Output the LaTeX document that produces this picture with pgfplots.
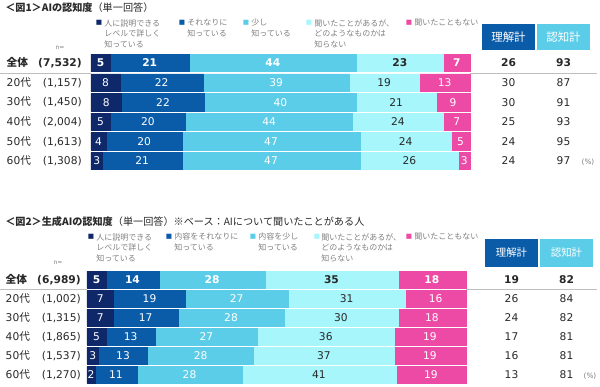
\documentclass[border=0pt]{standalone}
\usepackage{pgfplots}
\pgfplotsset{compat=1.18}
\usepackage{fontspec}
\setmainfont{DejaVu Sans}
\newfontfamily\jp{Noto Sans CJK JP}
\definecolor{c1}{RGB}{14,40,106}
\definecolor{c2}{RGB}{10,92,168}
\definecolor{c3}{RGB}{92,205,232}
\definecolor{c4}{RGB}{167,246,252}
\definecolor{c5}{RGB}{236,74,164}
\definecolor{lg}{RGB}{128,128,128}
\definecolor{tx}{RGB}{40,40,40}
\protected\def\B#1{{\bfseries #1}}
\protected\def\rl#1#2{\makebox[56.25pt]{#1\hfill #2}}
\pgfplotsset{
  barax/.style={
    xbar stacked, scale only axis, anchor=north west,
    width=284.25pt, xmin=0, xmax=100,
    ymin=-0.5, ymax=5.5, y dir=reverse,
    axis line style={draw=none}, tick style={draw=none},
    xtick=\empty, ytick={0,...,5},
    yticklabel style={font=\fontsize{8}{9}\selectfont, color=tx, anchor=east, inner sep=0pt},
    point meta=explicit symbolic,
    nodes near coords,
    every node near coord/.append style={font=\fontsize{8}{9}\selectfont},
    clip=false,
  },
  totax/.style={
    scale only axis, anchor=north west, hide axis,
    ymin=-0.5, ymax=5.5, y dir=reverse,
    point meta=explicit symbolic, nodes near coords,
    every node near coord/.append style={anchor=center, color=tx, font=\fontsize{8}{9}\selectfont},
    clip=false,
  },
}
\begin{document}
\begin{tikzpicture}
% ---------------- Chart 1 ----------------
\begin{scope}[x=0.75pt, y=-0.75pt]
\node[anchor=west, inner sep=0, text=tx] at (5,8) {\jp\fontsize{7.6}{9}\selectfont\textbf{＜図1＞AIの認知度}（単一回答）};
\foreach \sx/\tx/\col/\txt in {99/104/c1/{人に説明できる\\レベルで詳しく\\知っている}, 182/187/c2/{それなりに\\知っている}, 246/251/c3/{少し\\知っている}, 309/314/c4/{聞いたことがあるが、\\どのようなものかは\\知らない}, 409/414/c5/{聞いたこともない}}{
  \node[text=\col, inner sep=0, font=\fontsize{5}{6}\selectfont] at (\sx,23) {■};
  \node[anchor=north west, inner sep=0, align=left, text=lg, font=\jp\fontsize{6}{7.9}\selectfont] at (\tx,19) {\txt};
}
\node[fill=c2, text=white, minimum width=39.75pt, minimum height=19.5pt, inner sep=0, font=\jp\fontsize{8.6}{10}\selectfont] at (508.5,37) {理解計};
\node[fill=c3, text=white, minimum width=39.75pt, minimum height=19.5pt, inner sep=0, font=\jp\fontsize{8.6}{10}\selectfont] at (563.5,37) {認知計};
\node[text=lg, font=\fontsize{4.5}{5}\selectfont] at (60,48) {n=};
\node[text=lg, font=\fontsize{5.5}{6}\selectfont] at (588,162) {(\%)};
\draw[black!25, line width=0.6pt] (0,73) -- (91,73) (470,73) -- (597,73);
\end{scope}
\begin{axis}[barax, at={(91*0.75pt,-53.2*0.75pt)}, height=88.2pt, bar width=13.1pt,
  yticklabel style={xshift=-6.75pt},
  yticklabels={{\rl{\B{\jp 全体}}{\B{(7,532)}}},{\rl{20{\jp 代}}{(1,157)}},{\rl{30{\jp 代}}{(1,450)}},{\rl{40{\jp 代}}{(2,004)}},{\rl{50{\jp 代}}{(1,613)}},{\rl{60{\jp 代}}{(1,308)}}}]
\addplot[fill=c1, draw=c1, every node near coord/.append style={color=white}] coordinates {(5,0)[\B{5}] (7.7,1)[8] (8,2)[8] (5,3)[5] (4,4)[4] (3,5)[3]};
\addplot[fill=c2, draw=c2, every node near coord/.append style={color=white}] coordinates {(21,0)[\B{21}] (21.9,1)[22] (22,2)[22] (20,3)[20] (20,4)[20] (21,5)[21]};
\addplot[fill=c3, draw=c3, every node near coord/.append style={color=white}] coordinates {(44,0)[\B{44}] (38.5,1)[39] (40,2)[40] (44,3)[44] (47,4)[47] (47,5)[47]};
\addplot[fill=c4, draw=c4, every node near coord/.append style={color=tx}] coordinates {(23,0)[\B{23}] (18.5,1)[19] (21,2)[21] (24,3)[24] (24,4)[24] (26,5)[26]};
\addplot[fill=c5, draw=c5, every node near coord/.append style={color=white}] coordinates {(7,0)[\B{7}] (13.4,1)[13] (9,2)[9] (7,3)[7] (5,4)[5] (3,5)[3]};
\end{axis}
\begin{axis}[totax, at={(470*0.75pt,-53.2*0.75pt)}, width=97.5pt, height=88.2pt, xmin=470, xmax=600]
\addplot[only marks, mark=none] coordinates {(508.5,0)[\B{26}] (508.5,1)[30] (508.5,2)[30] (508.5,3)[25] (508.5,4)[24] (508.5,5)[24]};
\addplot[only marks, mark=none] coordinates {(563.5,0)[\B{93}] (563.5,1)[87] (563.5,2)[91] (563.5,3)[93] (563.5,4)[95] (563.5,5)[97]};
\end{axis}
% ---------------- Chart 2 ----------------
\begin{scope}[x=0.75pt, y=-0.75pt]
\node[anchor=west, inner sep=0, text=tx] at (5,222) {\jp\fontsize{7.6}{9}\selectfont\textbf{＜図2＞生成AIの認知度}（単一回答）※ベース：AIについて聞いたことがある人};
\foreach \sx/\tx/\col/\txt in {91/96/c1/{人に説明できる\\レベルで詳しく\\知っている}, 169/174/c2/{内容をそれなりに\\知っている}, 253/258/c3/{内容を少し\\知っている}, 317/321/c4/{聞いたことがあるが、\\どのようなものかは\\知らない}, 409/414/c5/{聞いたこともない}}{
  \node[text=\col, inner sep=0, font=\fontsize{5}{6}\selectfont] at (\sx,237) {■};
  \node[anchor=north west, inner sep=0, align=left, text=lg, font=\jp\fontsize{6}{7.9}\selectfont] at (\tx,233) {\txt};
}
\node[fill=c2, text=white, minimum width=39.75pt, minimum height=21pt, inner sep=0, font=\jp\fontsize{7.8}{9}\selectfont] at (511.5,253) {理解計};
\node[fill=c3, text=white, minimum width=39.75pt, minimum height=21pt, inner sep=0, font=\jp\fontsize{7.8}{9}\selectfont] at (566.5,253) {認知計};
\node[text=lg, font=\fontsize{4.5}{5}\selectfont] at (58,263) {n=};
\node[text=lg, font=\fontsize{5.5}{6}\selectfont] at (590,376) {(\%)};
\draw[black!25, line width=0.6pt] (0,289) -- (87,289) (466,289) -- (597,289);
\end{scope}
\begin{axis}[barax, at={(87*0.75pt,-270*0.75pt)}, height=85.5pt, bar width=12.75pt,
  yticklabel style={xshift=-4.5pt},
  yticklabels={{\rl{\B{\jp 全体}}{\B{(6,989)}}},{\rl{20{\jp 代}}{(1,002)}},{\rl{30{\jp 代}}{(1,315)}},{\rl{40{\jp 代}}{(1,865)}},{\rl{50{\jp 代}}{(1,537)}},{\rl{60{\jp 代}}{(1,270)}}}]
\addplot[fill=c1, draw=c1, every node near coord/.append style={color=white}] coordinates {(5,0)[\B{5}] (7,1)[7] (7,2)[7] (5,3)[5] (3,4)[3] (2.1,5)[2]};
\addplot[fill=c2, draw=c2, every node near coord/.append style={color=white}] coordinates {(14,0)[\B{14}] (19,1)[19] (17,2)[17] (13,3)[13] (13,4)[13] (11.1,5)[11]};
\addplot[fill=c3, draw=c3, every node near coord/.append style={color=white}] coordinates {(28,0)[\B{28}] (27,1)[27] (28,2)[28] (27,3)[27] (28,4)[28] (27.7,5)[28]};
\addplot[fill=c4, draw=c4, every node near coord/.append style={color=tx}] coordinates {(35,0)[\B{35}] (31,1)[31] (30,2)[30] (36,3)[36] (37,4)[37] (40.6,5)[41]};
\addplot[fill=c5, draw=c5, every node near coord/.append style={color=white}] coordinates {(18,0)[\B{18}] (16,1)[16] (18,2)[18] (19,3)[19] (19,4)[19] (18.5,5)[19]};
\end{axis}
\begin{axis}[totax, at={(466*0.75pt,-270*0.75pt)}, width=100.5pt, height=85.5pt, xmin=466, xmax=600]
\addplot[only marks, mark=none] coordinates {(511.5,0)[\B{19}] (511.5,1)[26] (511.5,2)[24] (511.5,3)[17] (511.5,4)[16] (511.5,5)[13]};
\addplot[only marks, mark=none] coordinates {(566.5,0)[\B{82}] (566.5,1)[84] (566.5,2)[82] (566.5,3)[81] (566.5,4)[81] (566.5,5)[81]};
\end{axis}
\pgfresetboundingbox
\path (0,0) rectangle (450pt,-289.5pt);
\end{tikzpicture}
\end{document}
